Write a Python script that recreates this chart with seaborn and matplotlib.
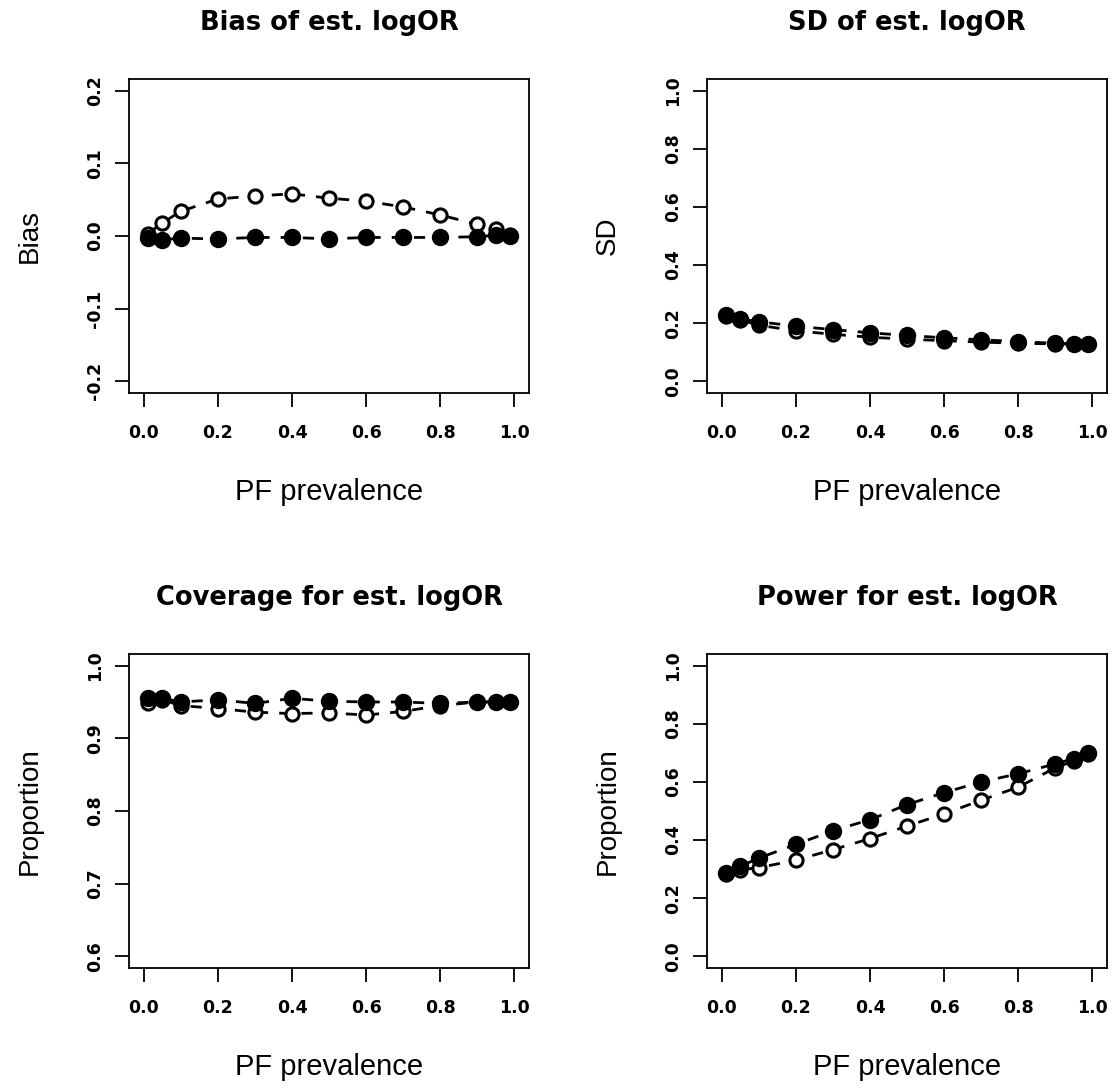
import numpy as np
import pandas as pd
import seaborn as sns
import matplotlib.pyplot as plt

# PF prevalence values (x)
prevalence = [0.01, 0.05, 0.1, 0.2, 0.3, 0.4, 0.5, 0.6, 0.7, 0.8, 0.9, 0.95, 0.99]

# open circles / filled circles for each panel
bias_open = [0.003, 0.018, 0.034, 0.051, 0.055, 0.058, 0.052, 0.048, 0.040, 0.029, 0.016, 0.009, 0.002]
bias_filled = [-0.003, -0.005, -0.003, -0.004, -0.002, -0.002, -0.004, -0.002, -0.002, -0.002, -0.001, 0.001, 0.000]

sd_open = [0.226, 0.212, 0.193, 0.174, 0.162, 0.152, 0.145, 0.140, 0.135, 0.131, 0.129, 0.128, 0.127]
sd_filled = [0.228, 0.215, 0.205, 0.190, 0.178, 0.167, 0.158, 0.150, 0.143, 0.137, 0.131, 0.129, 0.127]

cov_open = [0.948, 0.953, 0.945, 0.941, 0.936, 0.934, 0.935, 0.932, 0.937, 0.945, 0.950, 0.950, 0.950]
cov_filled = [0.955, 0.955, 0.950, 0.953, 0.948, 0.955, 0.951, 0.950, 0.950, 0.948, 0.950, 0.950, 0.950]

pow_open = [0.283, 0.298, 0.305, 0.331, 0.367, 0.405, 0.448, 0.490, 0.537, 0.582, 0.648, 0.672, 0.697]
pow_filled = [0.286, 0.310, 0.338, 0.385, 0.432, 0.470, 0.522, 0.563, 0.600, 0.628, 0.662, 0.680, 0.700]

titles = ['Bias of est. logOR', 'SD of est. logOR', 'Coverage for est. logOR', 'Power for est. logOR']
ylabels = ['Bias', 'SD', 'Proportion', 'Proportion']
yticks = [[-0.2, -0.1, 0.0, 0.1, 0.2],
          [0.0, 0.2, 0.4, 0.6, 0.8, 1.0],
          [0.6, 0.7, 0.8, 0.9, 1.0],
          [0.0, 0.2, 0.4, 0.6, 0.8, 1.0]]
series = [(bias_open, bias_filled), (sd_open, sd_filled),
          (cov_open, cov_filled), (pow_open, pow_filled)]

sns.set_theme(style='white')
plt.rcParams['axes.edgecolor'] = 'black'
plt.rcParams['axes.linewidth'] = 1.3
plt.rcParams['text.color'] = 'black'
plt.rcParams['axes.labelcolor'] = 'black'
plt.rcParams['xtick.color'] = 'black'
plt.rcParams['ytick.color'] = 'black'

fig = plt.figure(figsize=(11.18, 10.89), dpi=100)
W, H = 1118, 1089
boxes = [(129, 79), (707, 79), (129, 654), (707, 654)]

tick_font = dict(family='DejaVu Sans', weight='bold', size=12.5, color='black')

for i, (left, top) in enumerate(boxes):
    ax = fig.add_axes([left / W, 1 - (top + 314) / H, 400 / W, 314 / H])
    y_open, y_filled = series[i]
    df = pd.DataFrame({'x': prevalence, 'open': y_open, 'filled': y_filled})

    sns.lineplot(data=df, x='x', y='open', ax=ax, color='black', linestyle=(0, (4, 4)),
                 linewidth=2, marker='o', markersize=9.5, markerfacecolor='white',
                 markeredgecolor='black', markeredgewidth=2.2)
    sns.lineplot(data=df, x='x', y='filled', ax=ax, color='black', linestyle=(0, (4, 4)),
                 linewidth=2, marker='o', markersize=11.5, markerfacecolor='black',
                 markeredgecolor='black', markeredgewidth=1)

    lo, hi = yticks[i][0], yticks[i][-1]
    pad = (hi - lo) * 0.04
    ax.set_ylim(lo - pad, hi + pad)
    ax.set_xlim(-0.04, 1.04)
    ax.set_xticks([0.0, 0.2, 0.4, 0.6, 0.8, 1.0])
    ax.set_xticklabels(['%.1f' % v for v in [0.0, 0.2, 0.4, 0.6, 0.8, 1.0]], fontdict=tick_font)
    ax.set_yticks(yticks[i])
    ax.set_yticklabels(['%.1f' % v for v in yticks[i]], fontdict=tick_font,
                       rotation=90, va='center')
    ax.tick_params(axis='both', direction='out', length=10, width=1.3, color='black',
                   bottom=True, left=True)
    ax.tick_params(axis='x', pad=12)
    ax.tick_params(axis='y', pad=8)
    for s in ax.spines.values():
        s.set_visible(True)
        s.set_color('black')

    ax.set_title(titles[i], fontsize=18.5, fontweight='bold', family='DejaVu Sans',
                 color='black', pad=35)
    ax.set_xlabel('PF prevalence', fontsize=21, family='Liberation Sans', va='center',
                  color='black')
    ax.xaxis.set_label_coords(0.5, -99 / 314)
    ax.set_ylabel(ylabels[i], fontsize=20, family='Liberation Sans', va='center',
                  color='black')
    ax.yaxis.set_label_coords(-99 / 400, 0.5)

fig.savefig('out.png', dpi=100, facecolor='white')
